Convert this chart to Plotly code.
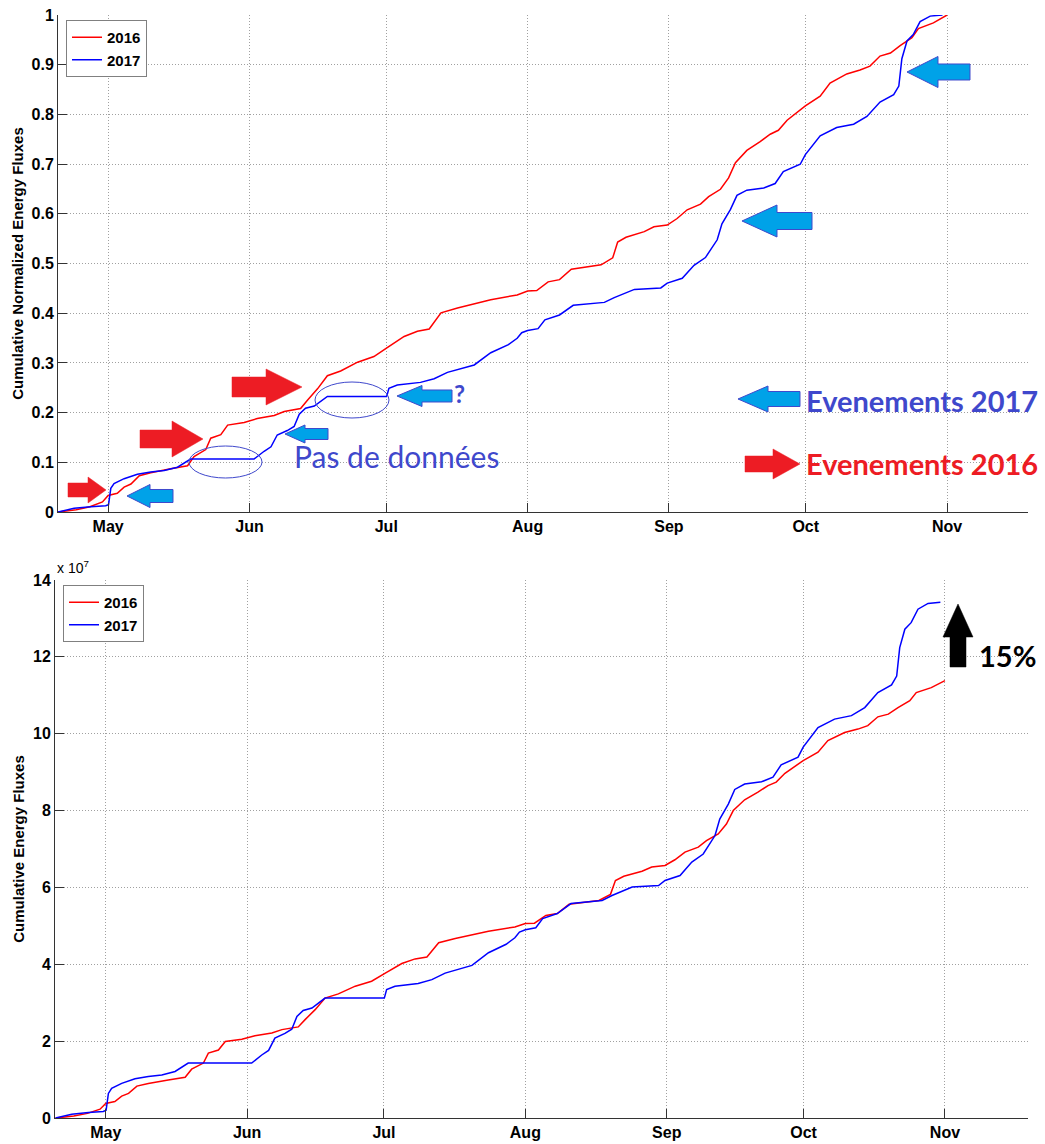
import plotly.graph_objects as go

# ---------------- data (cumulative energy flux, units of 1e7) ----------------
dates_2016 = ["04-20 00", "04-24 00", "04-27 00", "04-29 18", "05-01 00", "05-03 00", "05-04 12",
              "05-06 00", "05-07 20", "05-10 08", "05-14 17", "05-18 10", "05-19 20", "05-22 10",
              "05-23 12", "05-25 17", "05-27 05", "05-30 20", "06-02 17", "06-06 10", "06-08 15",
              "06-12 05", "06-13 17", "06-15 22", "06-18 02", "06-21 00", "06-24 17", "06-28 07",
              "07-01 07", "07-04 22", "07-07 20", "07-10 10", "07-13 00", "07-16 15", "07-23 22",
              "07-26 08", "07-29 17", "08-01 00", "08-03 00", "08-05 12", "08-08 00", "08-10 14",
              "08-17 03", "08-19 16", "08-20 18", "08-22 14", "08-26 14", "08-28 17", "08-31 15",
              "09-02 19", "09-05 00", "09-07 22", "09-09 17", "09-12 07", "09-14 02", "09-15 14",
              "09-18 02", "09-21 00", "09-23 05", "09-25 00", "09-26 22", "09-30 22", "10-04 04",
              "10-06 08", "10-10 00", "10-12 22", "10-15 02", "10-17 07", "10-19 14", "10-21 17",
              "10-24 07", "10-25 17", "10-29 00", "11-01 00"]
flux_2016 = [0, 0.05, 0.12, 0.23, 0.38, 0.43, 0.57, 0.64, 0.83, 0.90, 0.99, 1.06, 1.27, 1.43,
             1.69, 1.77, 1.99, 2.05, 2.14, 2.21, 2.30, 2.37, 2.56, 2.82, 3.12, 3.23, 3.43, 3.56,
             3.77, 4.02, 4.14, 4.19, 4.56, 4.67, 4.86, 4.90, 4.97, 5.06, 5.07, 5.27, 5.32, 5.56,
             5.66, 5.82, 6.18, 6.29, 6.42, 6.53, 6.57, 6.72, 6.92, 7.05, 7.22, 7.39, 7.65, 8.00,
             8.28, 8.48, 8.65, 8.74, 8.97, 9.30, 9.52, 9.82, 10.03, 10.12, 10.21, 10.44, 10.51,
             10.68, 10.86, 11.07, 11.20, 11.38]

dates_2017 = ["04-20 00", "04-23 13", "04-27 05", "04-30 11", "05-01 02", "05-01 14", "05-02 07",
              "05-04 12", "05-07 10", "05-10 08", "05-13 07", "05-16 05", "05-19 02", "06-02 00",
              "06-04 05", "06-05 17", "06-07 02", "06-09 07", "06-10 19", "06-11 22", "06-13 07",
              "06-15 05", "06-18 02", "07-01 02", "07-01 14", "07-03 10", "07-08 12", "07-11 12",
              "07-14 10", "07-20 07", "07-23 22", "07-26 08", "07-27 19", "07-29 17", "07-30 17",
              "08-01 00", "08-03 07", "08-04 19", "08-08 00", "08-11 00", "08-17 20", "08-20 00",
              "08-24 10", "08-30 05", "08-31 15", "09-03 22", "09-06 12", "09-09 00", "09-11 14",
              "09-12 15", "09-14 12", "09-15 22", "09-18 02", "09-21 19", "09-24 07", "09-26 02",
              "09-29 19", "09-30 22", "10-04 04", "10-07 19", "10-11 12", "10-14 10", "10-17 07",
              "10-20 07", "10-21 10", "10-22 02", "10-23 05", "10-24 14", "10-26 02", "10-28 07",
              "10-31 00"]
flux_2017 = [0, 0.10, 0.14, 0.17, 0.20, 0.64, 0.77, 0.90, 1.02, 1.08, 1.12, 1.21, 1.43, 1.43,
             1.64, 1.76, 2.08, 2.20, 2.31, 2.64, 2.80, 2.86, 3.12, 3.12, 3.34, 3.43, 3.50, 3.60,
             3.77, 3.97, 4.30, 4.45, 4.52, 4.69, 4.84, 4.90, 4.95, 5.19, 5.32, 5.58, 5.66, 5.79,
             6.01, 6.05, 6.18, 6.31, 6.66, 6.87, 7.35, 7.78, 8.17, 8.55, 8.69, 8.75, 8.87, 9.19,
             9.39, 9.65, 10.16, 10.38, 10.47, 10.68, 11.07, 11.27, 11.50, 12.24, 12.72, 12.89,
             13.24, 13.39, 13.42]

month_ticks = ["05-01", "06-01", "07-01", "08-01", "09-01", "10-01", "11-01"]
month_labels = ["May", "Jun", "Jul", "Aug", "Sep", "Oct", "Nov"]
norm_ticks = [0, 0.1, 0.2, 0.3, 0.4, 0.5, 0.6, 0.7, 0.8, 0.9, 1]
norm_labels = ["0", "0.1", "0.2", "0.3", "0.4", "0.5", "0.6", "0.7", "0.8", "0.9", "1"]
abs_ticks = [0, 2, 4, 6, 8, 10, 12, 14]
abs_labels = ["0", "2", "4", "6", "8", "10", "12", "14"]

YEAR = "2017-"
x16 = [YEAR + d + ":00" for d in dates_2016]
x17 = [YEAR + d + ":00" for d in dates_2017]
n16 = [v / flux_2016[-1] for v in flux_2016]
n17 = [v / flux_2017[-1] for v in flux_2017]

# ---------------- geometry helpers ----------------
W, H = 1045, 1144
ML, MR, MT, MB = 55, 17, 15, 26
PW = W - ML - MR
PH = H - MT - MB


def px(x):
    return (x - ML) / PW


def py(y):
    return (H - MB - y) / PH


RED = "#FF0000"
BLUE = "#0000FF"
ARROW_RED = "#ED1C24"
ARROW_BLUE = "#00A2E8"
EDGE_BLUE = "#3F48CC"
FONT = "Liberation Sans, Arial, sans-serif"
CAL = "Lato, Carlito, Calibri, sans-serif"

fig = go.Figure()
fig.add_trace(go.Scatter(x=x16, y=n16, mode="lines", name="2016", line=dict(color=RED, width=1.5),
                         xaxis="x", yaxis="y", legend="legend"))
fig.add_trace(go.Scatter(x=x17, y=n17, mode="lines", name="2017", line=dict(color=BLUE, width=1.5),
                         xaxis="x", yaxis="y", legend="legend"))
fig.add_trace(go.Scatter(x=x16, y=flux_2016, mode="lines", name="2016", line=dict(color=RED, width=1.5),
                         xaxis="x2", yaxis="y2", legend="legend2"))
fig.add_trace(go.Scatter(x=x17, y=flux_2017, mode="lines", name="2017", line=dict(color=BLUE, width=1.5),
                         xaxis="x2", yaxis="y2", legend="legend2"))


def right_arrow(x0, x1, yc, bh, hh, hl):
    return [(x0, yc - bh), (x1 - hl, yc - bh), (x1 - hl, yc - hh), (x1, yc),
            (x1 - hl, yc + hh), (x1 - hl, yc + bh), (x0, yc + bh)]


def left_arrow(tip, tail, yc, bh, hh, hl):
    return [(tail, yc - bh), (tip + hl, yc - bh), (tip + hl, yc - hh), (tip, yc),
            (tip + hl, yc + hh), (tip + hl, yc + bh), (tail, yc + bh)]


def up_arrow(xc, tip, bottom, bw, hw, hl):
    return [(xc - bw, bottom), (xc - bw, tip + hl), (xc - hw, tip + hl), (xc, tip),
            (xc + hw, tip + hl), (xc + bw, tip + hl), (xc + bw, bottom)]


def path(pts):
    return "M " + " L ".join(f"{px(x):.5f},{py(y):.5f}" for x, y in pts) + " Z"


shapes = []
for a in [right_arrow(68, 106, 490, 7, 13, 18), right_arrow(140, 203, 439, 9, 18, 31),
          right_arrow(232, 302, 387, 10, 18, 36), right_arrow(745, 800, 464, 8, 15, 27)]:
    shapes.append(dict(type="path", xref="paper", yref="paper", path=path(a),
                       fillcolor=ARROW_RED, line=dict(color=ARROW_RED, width=0.5)))
for a in [left_arrow(127, 173, 496, 6.5, 11.5, 23), left_arrow(285, 328, 434, 5.5, 9, 20),
          left_arrow(397, 452, 396, 6, 10.5, 25), left_arrow(742, 812, 221, 8.5, 16, 35),
          left_arrow(907, 970, 72, 8, 15.5, 31), left_arrow(738, 800, 399, 7.5, 13, 30)]:
    shapes.append(dict(type="path", xref="paper", yref="paper", path=path(a),
                       fillcolor=ARROW_BLUE, line=dict(color=EDGE_BLUE, width=1)))
for (x0, y0, x1, y1) in [(189, 446, 262, 478), (315, 382, 389, 418)]:
    shapes.append(dict(type="circle", xref="paper", yref="paper", x0=px(x0), x1=px(x1),
                       y0=py(y1), y1=py(y0), line=dict(color=EDGE_BLUE, width=1)))
shapes.append(dict(type="path", xref="paper", yref="paper", path=path(up_arrow(958, 604, 667, 8, 15, 33)),
                   fillcolor="#000000", line=dict(color="#000000", width=0.5)))

annotations = [
    dict(text="?", x=px(452), y=py(393), xanchor="left", yanchor="middle",
         font=dict(family=CAL, size=24, color=EDGE_BLUE, weight="bold")),
    dict(text="Pas de données", x=px(292), y=py(456), xanchor="left", yanchor="middle",
         font=dict(family=CAL, size=30, color=EDGE_BLUE)),
    dict(text="Evenements 2017", x=px(804), y=py(400), xanchor="left", yanchor="middle",
         font=dict(family=CAL, size=29, color=EDGE_BLUE, weight="bold")),
    dict(text="Evenements 2016", x=px(804), y=py(463), xanchor="left", yanchor="middle",
         font=dict(family=CAL, size=29, color=ARROW_RED, weight="bold")),
    dict(text="15%", x=px(977), y=py(655), xanchor="left", yanchor="middle",
         font=dict(family=CAL, size=29, color="#000000", weight="bold")),
    dict(text="x 10<sup>7</sup>", x=px(55), y=py(578), xanchor="left", yanchor="bottom",
         font=dict(family=FONT, size=14, color="#000000")),
]
for a in annotations:
    a.update(xref="paper", yref="paper", showarrow=False)

axis_common = dict(showgrid=True, gridcolor="#A0A0A0", griddash="1px,2px", gridwidth=1,
                   showline=True, linecolor="#333333", linewidth=1, ticks="inside", ticklen=9,
                   tickcolor="#333333", zeroline=False, automargin=False,
                   tickfont=dict(family=FONT, size=16, color="#000000", weight="bold"))

xt = [YEAR + m for m in month_ticks]

fig.update_layout(
    width=W, height=H, margin=dict(l=ML, r=MR, t=MT, b=MB, autoexpand=False),
    paper_bgcolor="white", plot_bgcolor="white",
    shapes=shapes, annotations=annotations,
    xaxis=dict(domain=[px(58), 1], anchor="y", type="date",
               range=["2017-04-20 00:00", "2017-11-18 18:00"],
               tickvals=xt, ticktext=month_labels, **axis_common),
    yaxis=dict(domain=[py(512), py(15)], anchor="x", range=[0, 1],
               tickvals=norm_ticks, ticktext=norm_labels,
               title=dict(text="Cumulative Normalized Energy Fluxes", standoff=4,
                          font=dict(family=FONT, size=15, color="#000000", weight="bold")),
               **axis_common),
    xaxis2=dict(domain=[0, 1], anchor="y2", type="date",
                range=["2017-04-19 21:00", "2017-11-19 05:00"],
                tickvals=xt, ticktext=month_labels, **axis_common),
    yaxis2=dict(domain=[0, py(580)], anchor="x2", range=[0, 14],
                tickvals=abs_ticks, ticktext=abs_labels,
                title=dict(text="Cumulative Energy Fluxes", standoff=4,
                           font=dict(family=FONT, size=15, color="#000000", weight="bold")),
                **axis_common),
    legend=dict(x=px(66), y=py(20), xanchor="left", yanchor="top", bgcolor="white",
                bordercolor="#808080", borderwidth=1, itemwidth=30,
                font=dict(family=FONT, size=15, color="#000000", weight="bold")),
    legend2=dict(x=px(63), y=py(585), xanchor="left", yanchor="top", bgcolor="white",
                 bordercolor="#808080", borderwidth=1, itemwidth=30,
                 font=dict(family=FONT, size=15, color="#000000", weight="bold")),
)

fig.write_html("out.html", config={"displayModeBar": False},
               post_script="document.body.style.margin='0px';")
